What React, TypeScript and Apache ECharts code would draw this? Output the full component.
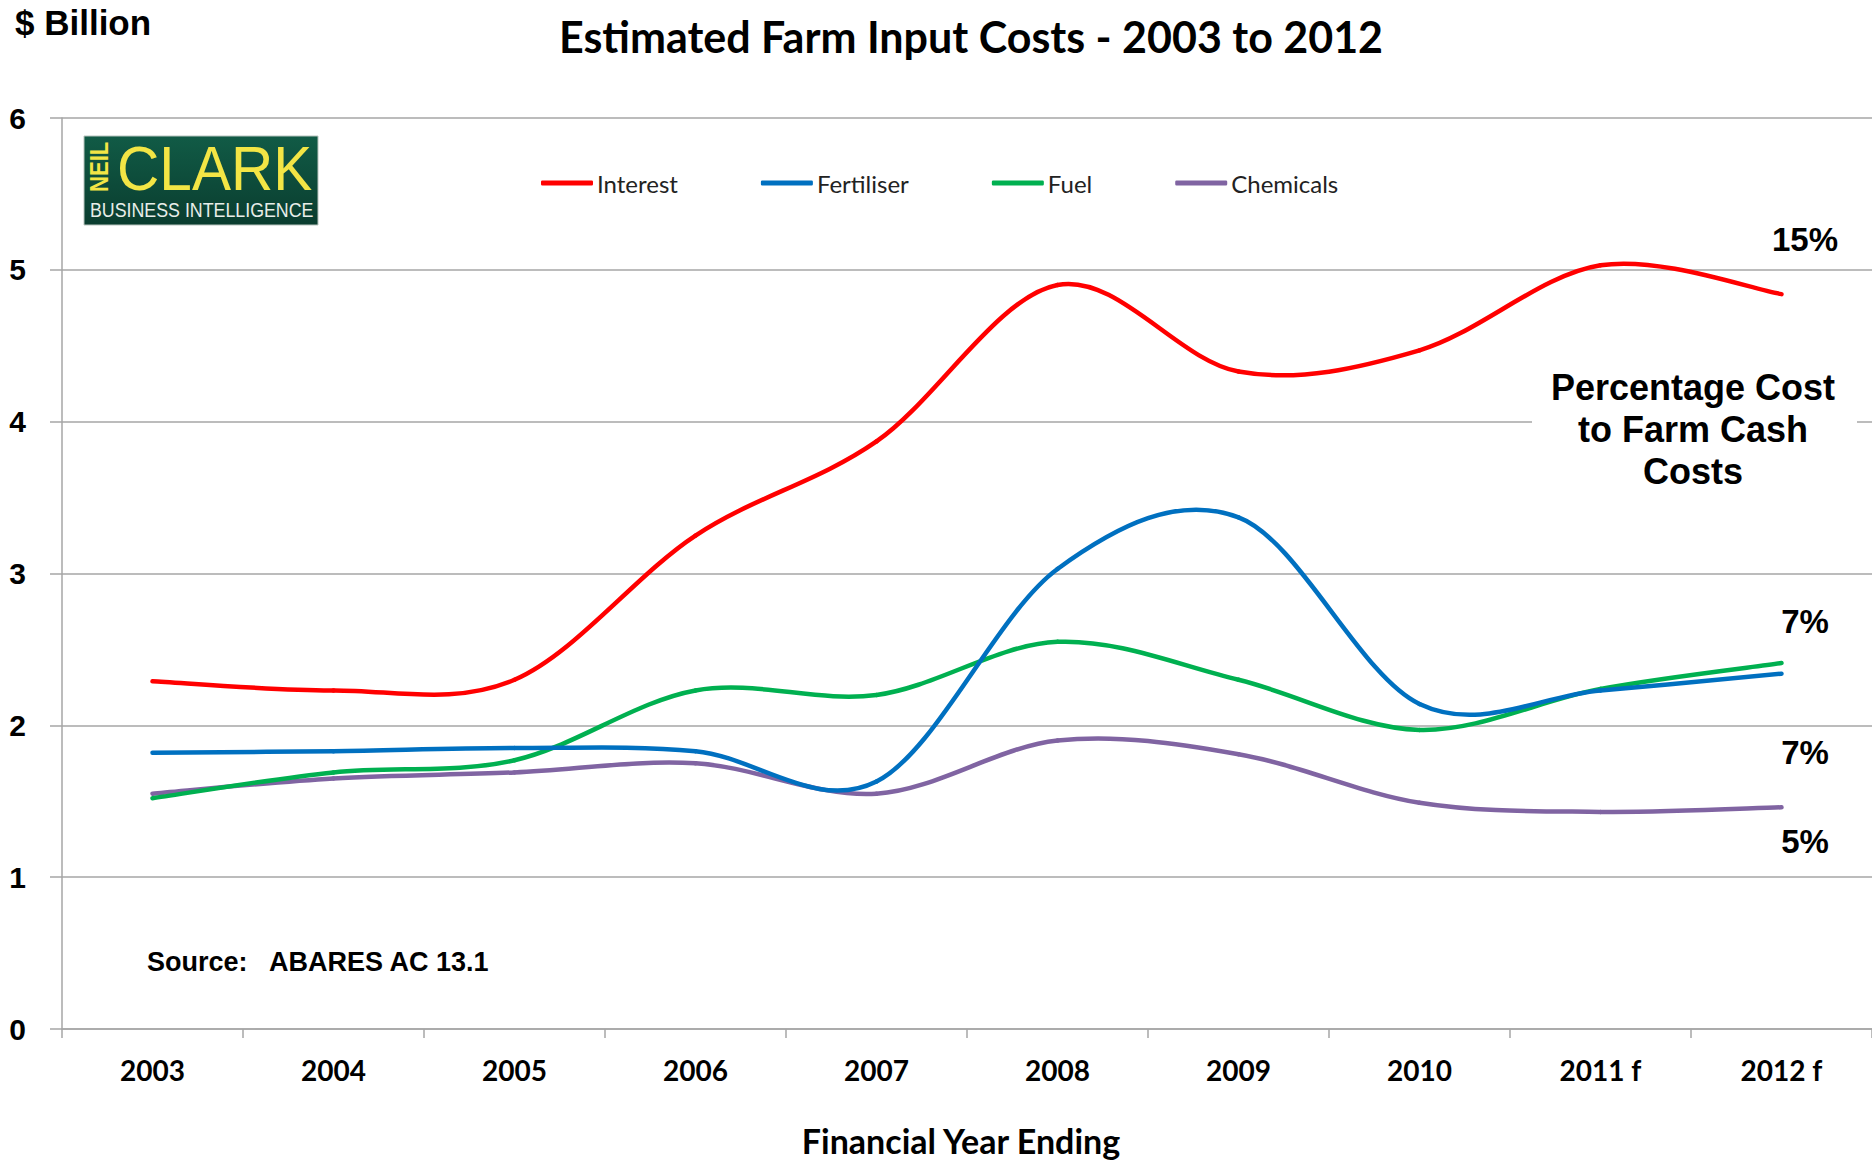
import React, { useEffect, useRef } from "react";
import * as echarts from "echarts";

// Financial years shown on the category axis
const years = ["2003", "2004", "2005", "2006", "2007", "2008", "2009", "2010", "2011 f", "2012 f"];

// Estimated input costs, $ billion
const interest = [2.29, 2.23, 2.3, 3.25, 3.87, 4.9, 4.33, 4.47, 5.03, 4.84];
const fertiliser = [1.82, 1.83, 1.85, 1.83, 1.63, 3.03, 3.37, 2.14, 2.23, 2.34];
const fuel = [1.52, 1.69, 1.77, 2.23, 2.2, 2.55, 2.3, 1.97, 2.24, 2.41];
const chemicals = [1.55, 1.65, 1.69, 1.75, 1.55, 1.9, 1.81, 1.49, 1.43, 1.46];

// Share of farm cash costs, written beside the line ends
const shareLabels = ["15%", "7%", "7%", "5%"];

const seriesNames = ["Interest", "Fertiliser", "Fuel", "Chemicals"];
const seriesColors = ["#ff0000", "#0070c0", "#00b050", "#8064a2"];

const ARIAL = "'Liberation Sans', Arial, sans-serif";
const HUMANIST = "Lato, 'Open Sans', sans-serif";

// Spreadsheet-style smoothed line: cubic segments whose control points follow
// the neighbouring points (Catmull-Rom tangents), drawn in pixel space.
function smoothLineRenderer(vals: number[], color: string) {
  return (params: any, api: any) => {
    if (params.dataIndex !== 0) return null;
    const pts: number[][] = vals.map((v, i) => api.coord([i, v]));
    const n = pts.length;
    const children: any[] = [];
    for (let i = 0; i < n - 1; i++) {
      const p0 = pts[Math.max(i - 1, 0)];
      const p1 = pts[i];
      const p2 = pts[i + 1];
      const p3 = pts[Math.min(i + 2, n - 1)];
      children.push({
        type: "bezierCurve",
        shape: {
          x1: p1[0],
          y1: p1[1],
          cpx1: p1[0] + (p2[0] - p0[0]) / 6,
          cpy1: p1[1] + (p2[1] - p0[1]) / 6,
          cpx2: p2[0] - (p3[0] - p1[0]) / 6,
          cpy2: p2[1] - (p3[1] - p1[1]) / 6,
          x2: p2[0],
          y2: p2[1],
        },
        style: { stroke: color, lineWidth: 4.5, fill: null, lineCap: "round", lineJoin: "round" },
      });
    }
    return { type: "group", children };
  };
}

export default function App() {
  const ref = useRef<HTMLDivElement>(null);

  useEffect(() => {
    document.body.style.margin = "0";
    const chart = echarts.init(ref.current!, undefined, { renderer: "svg" });

    const values = [interest, fertiliser, fuel, chemicals];
    const shareY = [239, 621, 752, 841];

    const option: echarts.EChartsOption = {
      animation: false,
      backgroundColor: "#ffffff",
      grid: { left: 62, right: 0, top: 118, bottom: 131, containLabel: false },
      legend: {
        left: 536,
        top: 166,
        icon: "roundRect",
        itemWidth: 52,
        itemHeight: 5,
        itemGap: 83,
        data: seriesNames,
        textStyle: { fontFamily: HUMANIST, fontSize: 24, color: "#222222", padding: [0, 0, 0, -1] },
      },
      xAxis: {
        type: "category",
        data: years,
        boundaryGap: true,
        axisLine: { lineStyle: { color: "#a6a6a6", width: 1.5 } },
        axisTick: { show: true, interval: 0, length: 9, lineStyle: { color: "#a6a6a6", width: 1.5 } },
        axisLabel: {
          interval: 0,
          margin: 27,
          fontFamily: HUMANIST,
          fontWeight: "bold",
          fontSize: 28,
          color: "#000000",
        },
        splitLine: { show: false },
      },
      yAxis: {
        type: "value",
        min: 0,
        max: 6,
        interval: 1,
        axisLine: { show: true, lineStyle: { color: "#a6a6a6", width: 1.5 } },
        axisTick: { show: true, length: 12, lineStyle: { color: "#a6a6a6", width: 1.5 } },
        axisLabel: {
          margin: 36,
          fontFamily: ARIAL,
          fontWeight: "bold",
          fontSize: 30,
          color: "#000000",
        },
        splitLine: { show: true, lineStyle: { color: "#a6a6a6", width: 1.5 } },
      },
      series: seriesNames.map((name, i) => ({
        name,
        type: "custom" as const,
        coordinateSystem: "cartesian2d",
        data: values[i].map((v, k) => [k, v]),
        encode: { x: 0, y: 1 },
        color: seriesColors[i],
        itemStyle: { color: seriesColors[i] },
        renderItem: smoothLineRenderer(values[i], seriesColors[i]),
        z: 10 - i,
        clip: false,
      })),
      graphic: [
        {
          type: "text",
          x: 15,
          y: 22,
          style: {
            text: "$ Billion",
            font: `bold 35px ${ARIAL}`,
            fill: "#000000",
            verticalAlign: "middle",
          },
        },
        {
          type: "text",
          x: 971,
          y: 36,
          style: {
            text: "Estimated Farm Input Costs - 2003 to 2012",
            font: `bold 43px ${HUMANIST}`,
            fill: "#000000",
            align: "center",
            verticalAlign: "middle",
          },
        },
        // Company logo block
        {
          type: "group",
          children: [
            {
              type: "rect",
              shape: { x: 84, y: 136, width: 234, height: 89 },
              style: {
                fill: new echarts.graphic.LinearGradient(0, 0, 0, 1, [
                  { offset: 0, color: "#115b46" },
                  { offset: 1, color: "#0a3d2f" },
                ]),
                stroke: "#b8c4be",
                lineWidth: 1,
              },
            },
            {
              type: "text",
              x: 117,
              y: 168,
              scaleX: 0.93,
              style: {
                text: "CLARK",
                font: `63px ${ARIAL}`,
                fill: "#f3e545",
                verticalAlign: "middle",
              },
            },
            {
              type: "text",
              x: 99,
              y: 192,
              rotation: Math.PI / 2,
              scaleX: 0.85,
              style: {
                text: "NEIL",
                font: `bold 26px ${ARIAL}`,
                fill: "#f3e545",
                verticalAlign: "middle",
              },
            },
            {
              type: "text",
              x: 90,
              y: 210,
              scaleX: 0.89,
              style: {
                text: "BUSINESS INTELLIGENCE",
                font: `20px ${ARIAL}`,
                fill: "#e8eee9",
                verticalAlign: "middle",
              },
            },
          ],
        },
        // Cost share annotations
        ...shareLabels.map((t, i) => ({
          type: "text" as const,
          x: 1805,
          y: shareY[i],
          style: {
            text: t,
            font: `bold 33px ${ARIAL}`,
            fill: "#000000",
            align: "center" as const,
            verticalAlign: "middle" as const,
          },
        })),
        {
          type: "rect",
          shape: { x: 1532, y: 368, width: 325, height: 122 },
          style: { fill: "#ffffff" },
          z: 50,
        },
        {
          type: "text",
          x: 1693,
          y: 429,
          z: 51,
          style: {
            text: "Percentage Cost\nto Farm Cash\nCosts",
            font: `bold 36px ${ARIAL}`,
            lineHeight: 42,
            fill: "#000000",
            align: "center",
            verticalAlign: "middle",
          },
        },
        {
          type: "text",
          x: 147,
          y: 962,
          style: {
            text: "Source:   ABARES AC 13.1",
            font: `bold 27px ${ARIAL}`,
            fill: "#000000",
            verticalAlign: "middle",
          },
        },
        {
          type: "text",
          x: 961,
          y: 1140,
          style: {
            text: "Financial Year Ending",
            font: `bold 34px ${HUMANIST}`,
            fill: "#000000",
            align: "center",
            verticalAlign: "middle",
          },
        },
      ],
    };

    chart.setOption(option);
    return () => chart.dispose();
  }, []);

  return <div ref={ref} style={{ width: 1872, height: 1160 }} />;
}
